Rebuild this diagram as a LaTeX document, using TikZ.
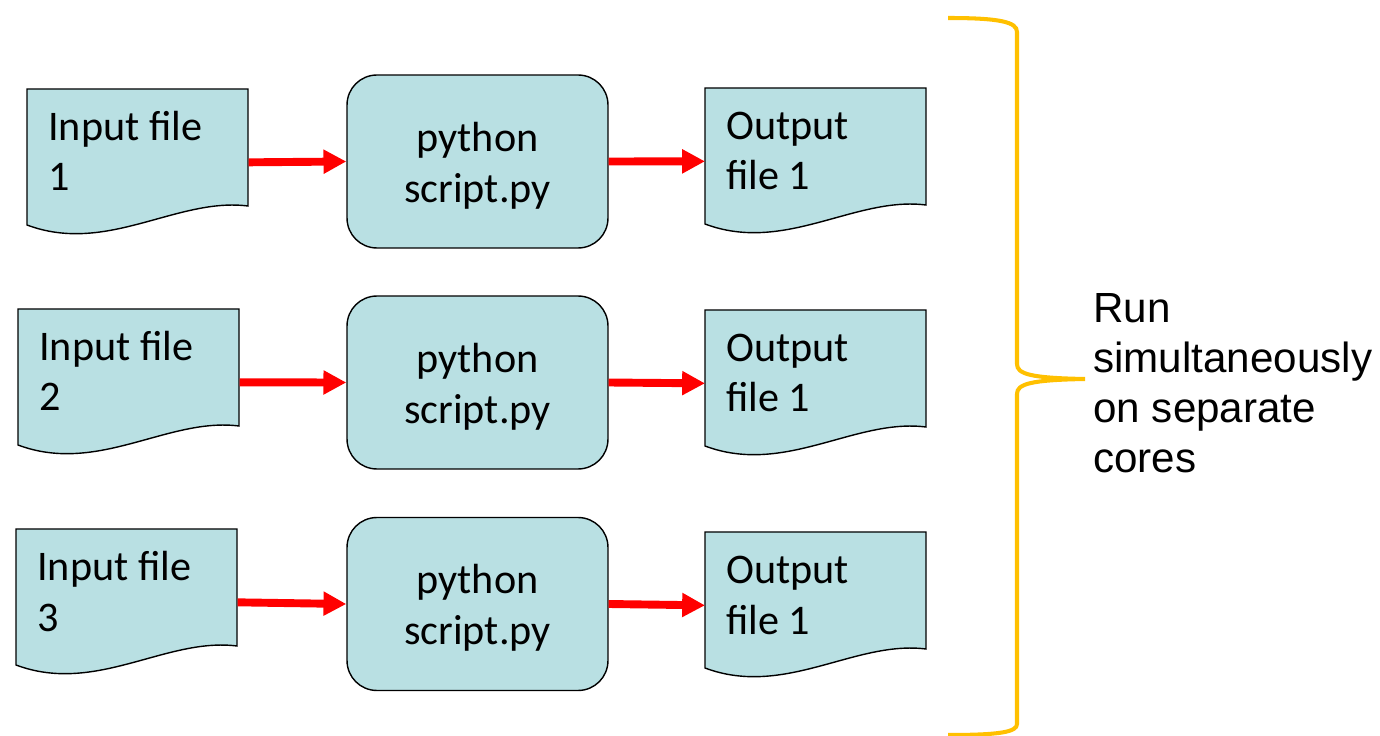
\documentclass[tikz,border=0pt]{standalone}
\usepackage{fontspec}
\setmainfont{Carlito}
\newfontfamily\sidefont{Liberation Sans}
\usepackage{tikz}
\usetikzlibrary{arrows.meta, positioning, calc}

\definecolor{boxfill}{RGB}{185,224,227}
\definecolor{braceorange}{RGB}{255,192,0}

\tikzset{
  docline/.style={draw=black, line width=0.8pt, fill=boxfill},
  docbox/.style={rectangle, draw=none, inner sep=0pt, minimum width=4.42cm, minimum height=2.92cm},
  doctext/.style={align=left, inner sep=0pt, font=\fontsize{24}{29}\selectfont},
  pybox/.style={rectangle, rounded corners=17pt, draw=black, line width=0.8pt, fill=boxfill,
    minimum width=5.22cm, minimum height=3.46cm, align=center, font=\fontsize{24}{29}\selectfont},
  flow/.style={->, draw=red, line width=4.5pt},
  sidetext/.style={align=left, inner sep=0pt, font=\sidefont\fontsize{24}{28.6}\selectfont}
}

% file symbol with a wavy lower edge, #2 is its top left corner
% (base of a two line node is the base of its second line)
\newcommand{\docfile}[4]{%
  \begin{scope}[shift={(#2)}]
    \filldraw[docline] (0,0) -- (221,0) -- (221,117) .. controls (150,108) and (80,166) .. (0,136) -- cycle;
    \node[docbox, anchor=north west] (#1) at (0,0) {};
    \node[doctext, anchor=base west] (#1-txt) at (21,102) {#3\\#4};
  \end{scope}
}

\begin{document}
\begin{tikzpicture}[x=0.02cm, y=-0.02cm, >={Triangle[length=13pt,width=13pt]}]
\useasboundingbox (0,0) rectangle (1380,736);

% input files
\docfile{in1}{27,89}{Input file}{1}
\docfile{in2}{18,309}{Input file}{2}
\docfile{in3}{16,529}{Input file}{3}

% the same script three times
\node[pybox] (py1) at (477.5,161.5) {\rule{0pt}{21pt}python\\script.py};
\node[pybox] (py2) at (477.5,382.5) {\rule{0pt}{21pt}python\\script.py};
\node[pybox] (py3) at (477.5,604) {\rule{0pt}{21pt}python\\script.py};

% output files
\docfile{out1}{705,88}{Output}{file 1}
\docfile{out2}{705,310}{Output}{file 1}
\docfile{out3}{705,532}{Output}{file 1}

\draw[flow] (in1.east) -- (py1.west);
\draw[flow] (in2.east) -- (py2.west);
\draw[flow] (in3.east) -- (py3.west);
\draw[flow] (py1.east) -- (out1.west);
\draw[flow] (py2.east) -- (out2.west);
\draw[flow] (py3.east) -- (out3.west);

% brace round all three rows
\draw[braceorange, line width=2.3pt] (948,18) .. controls (1000,18) and (1017,22) .. (1017,32)
  -- (1017,364) .. controls (1017,374) and (1030,378) .. (1085,379)
  .. controls (1030,380) and (1017,384) .. (1017,394)
  -- (1017,724) .. controls (1017,732) and (1000,735) .. (948,735);
\node[sidetext, anchor=base west] (note) at (1093,473) {Run\\simultaneously\\on separate\\cores};

\end{tikzpicture}
\end{document}
